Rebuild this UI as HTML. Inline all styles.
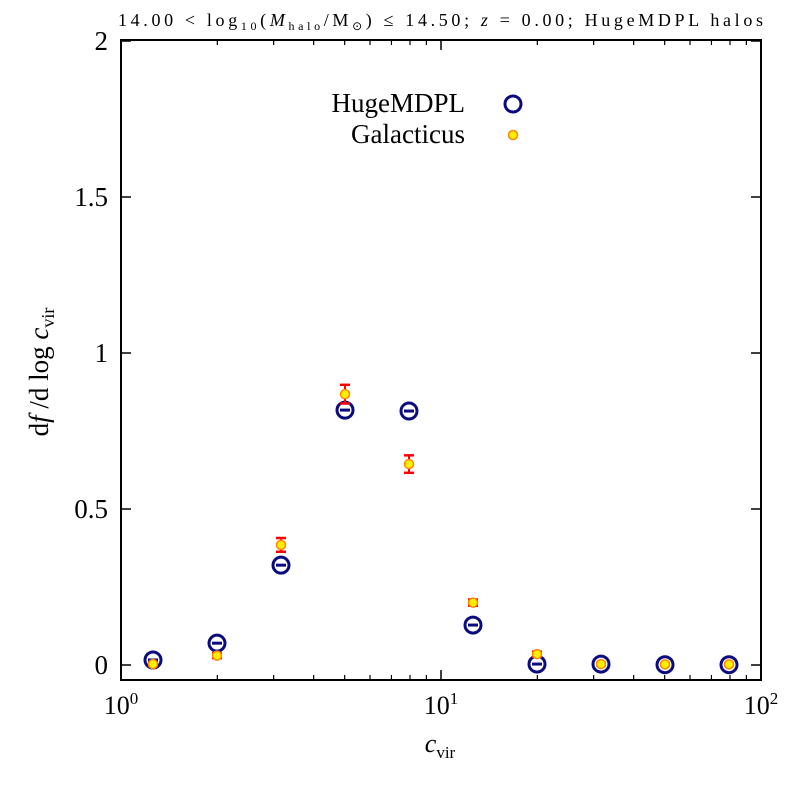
<!DOCTYPE html>
<html><head><meta charset="utf-8"><style>
body{margin:0;background:#fff;}
svg{display:block;font-family:"Liberation Serif",serif;}
</style></head><body>
<svg id="chart" width="800" height="800" viewBox="0 0 800 800">
<text x="118" y="26" font-size="18" textLength="645" lengthAdjust="spacing">14.00 &lt; log<tspan font-size="12" dy="4">10</tspan><tspan dy="-4">(</tspan><tspan font-style="italic">M</tspan><tspan font-size="12" dy="4">halo</tspan><tspan dy="-4">/M</tspan><tspan font-size="12" dy="4">⊙</tspan><tspan dy="-4">) ≤ 14.50; </tspan><tspan font-style="italic">z</tspan> = 0.00; HugeMDPL halos</text>
<text x="440" y="752" text-anchor="middle" font-size="26"><tspan font-style="italic">c</tspan><tspan font-size="17" dy="6">vir</tspan></text>
<text transform="translate(48,372) rotate(-90)" text-anchor="middle" font-size="27">d<tspan font-style="italic">f</tspan> /d log <tspan font-style="italic">c</tspan><tspan font-size="18" dy="6">vir</tspan></text>
<g id="axes"></g><g id="marks"></g>
<g>
<text x="465" y="112" text-anchor="end" font-size="27">HugeMDPL</text>
<circle cx="513" cy="104" r="8" fill="none" stroke="#0b0b80" stroke-width="3"/>
<text x="465" y="143" text-anchor="end" font-size="27">Galacticus</text>
<circle cx="513" cy="135" r="4.5" fill="#ffee00" stroke="#ff8800" stroke-width="1.5"/>
</g>
</svg>
<script>
const logC = [0.1,0.3,0.5,0.7,0.9,1.1,1.3,1.5,1.7,1.9];
const hugeVals = [0.016,0.07,0.32,0.817,0.814,0.128,0.003,0.003,0.001,0.001];
const galVals = [0.003,0.03,0.385,0.868,0.644,0.2,0.035,0.003,0.002,0.002];
const galErr = [0.005,0.008,0.022,0.03,0.028,0.01,0.008,0.004,0.003,0.003];
const yTicks = [0,0.5,1,1.5,2];
const yTickLabels = ["0","0.5","1","1.5","2"];
const xDecades = [0,1,2];
const NS="http://www.w3.org/2000/svg";
const L=121,R=761,T=40,B=680;
function xs(l){return L+(l-0)/2*(R-L);}
function ys(v){return 665-v*312;}
function mk(tag,attrs,parent){const e=document.createElementNS(NS,tag);for(const k in attrs)e.setAttribute(k,attrs[k]);parent.appendChild(e);return e;}
const axes=document.getElementById('axes'),marks=document.getElementById('marks');
const fr=mk('rect',{x:L,y:T,width:R-L,height:B-T,fill:'none',stroke:'#000','stroke-width':2},axes);


yTicks.forEach((v,i)=>{const y=ys(v);
 mk('line',{x1:L,x2:L+10,y1:y,y2:y,stroke:'#000','stroke-width':1.5},axes);
 mk('line',{x1:R,x2:R-10,y1:y,y2:y,stroke:'#000','stroke-width':1.5},axes);
 const t=mk('text',{x:L-13,y:y+9,'text-anchor':'end','font-size':27},axes);t.textContent=yTickLabels[i];
 
 });
xDecades.forEach(d=>{const x=xs(d);
 mk('line',{x1:x,x2:x,y1:B,y2:B-10,stroke:'#000','stroke-width':1.5},axes);
 mk('line',{x1:x,x2:x,y1:T,y2:T+10,stroke:'#000','stroke-width':1.5},axes);
 const t=mk('text',{x:x,y:B+34,'text-anchor':'middle','font-size':26},axes);
 t.innerHTML='10<tspan font-size="17" dy="-10">'+d+'</tspan>';
 
 
 if(d<2)for(let m=2;m<10;m++){const xm=xs(d+Math.log10(m));
  mk('line',{x1:xm,x2:xm,y1:B,y2:B-5,stroke:'#000','stroke-width':1.2},axes);
  mk('line',{x1:xm,x2:xm,y1:T,y2:T+5,stroke:'#000','stroke-width':1.2},axes);}});
logC.forEach((l,i)=>{const x=xs(l),y=ys(hugeVals[i]);
 const g=mk('g',{},marks);
 
 
 mk('circle',{cx:x,cy:y,r:8,fill:'none',stroke:'#0b0b80','stroke-width':3},g);
 mk('line',{x1:x-5,x2:x+5,y1:y,y2:y,stroke:'#0b0b80','stroke-width':3},g);});
logC.forEach((l,i)=>{const x=xs(l),y=ys(galVals[i]),y1=ys(galVals[i]-galErr[i]),y2=ys(galVals[i]+galErr[i]);
 const g=mk('g',{},marks);
 
 
 mk('line',{x1:x,x2:x,y1:y1,y2:y2,stroke:'#ff0000','stroke-width':2},g);
 mk('line',{x1:x-5,x2:x+5,y1:y1,y2:y1,stroke:'#ff0000','stroke-width':2.5},g);
 mk('line',{x1:x-5,x2:x+5,y1:y2,y2:y2,stroke:'#ff0000','stroke-width':2.5},g);
 mk('circle',{cx:x,cy:y,r:4.5,fill:'#ffee00',stroke:'#ff8800','stroke-width':1.5},g);});
</script>
</body></html>
